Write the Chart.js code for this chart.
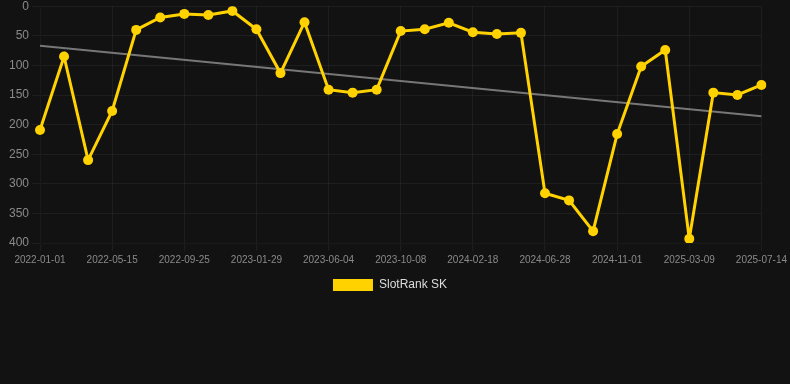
<!DOCTYPE html>
<html>
<head>
<meta charset="utf-8">
<script src="https://cdn.jsdelivr.net/npm/chart.js@4/dist/chart.umd.min.js"></script>
<style>
  html, body { margin: 0; padding: 0; background: #121212; overflow: hidden; }
  #wrap { width: 790px; height: 305px; margin-top: -4px; }
</style>
</head>
<body>
<div id="wrap"><canvas id="myChart"></canvas></div>
<script>
// dates of each rank snapshot
const dates = [
    "2022-01-01", "2022-02-14", "2022-03-30", "2022-05-15", "2022-06-29", "2022-08-11",
    "2022-09-25", "2022-11-06", "2022-12-18", "2023-01-29", "2023-03-12", "2023-04-23",
    "2023-06-04", "2023-07-16", "2023-08-27", "2023-10-08", "2023-11-21", "2024-01-04",
    "2024-02-18", "2024-04-01", "2024-05-15", "2024-06-28", "2024-08-09", "2024-09-20",
    "2024-11-01", "2024-12-13", "2025-01-25", "2025-03-09", "2025-04-20", "2025-06-01",
    "2025-07-14"
];

// SlotRank SK position (lower is better, axis is reversed)
const ranks = [
    209, 85, 260, 177, 40, 19, 13, 15, 8, 39, 113,
    27, 141, 146, 141, 42, 39, 28, 44, 47, 45,
    316, 328, 380, 216, 102, 74, 393, 146, 150, 133
];

const trendStart = 67;
const trendEnd = 186;
const trend = dates.map((d, i) => i === 0 ? trendStart : (i === dates.length - 1 ? trendEnd : null));

const yTicks = [0, 50, 100, 150, 200, 250, 300, 350, 400];

const gridColor = 'rgba(255, 255, 255, 0.05)';
const tickColor = '#8a8a8a';
const fontFamily = 'Liberation Sans, Arial, sans-serif';

const ctx = document.getElementById("myChart");
const myChart = new Chart(ctx, {
    type: 'line',
    data: {
        labels: dates,
        datasets: [{
            label: 'SlotRank SK',
            data: ranks,
            borderColor: '#FFD200',
            backgroundColor: '#FFD200',
            borderWidth: 3,
            pointRadius: 5,
            pointBackgroundColor: '#FFD200',
            pointBorderWidth: 0,
            tension: 0
        }, {
            label: 'trend',
            data: trend,
            borderColor: '#777777',
            borderWidth: 2,
            pointRadius: 0,
            spanGaps: true,
            tension: 0
        }]
    },
    options: {
        responsive: true,
        maintainAspectRatio: false,
        animation: false,
        layout: { padding: { right: 10 } },
        plugins: {
            legend: {
                position: 'bottom',
                labels: {
                    color: '#dddddd',
                    font: { size: 12, family: fontFamily },
                    boxWidth: 40,
                    generateLabels: chart => {
                        const items = Chart.defaults.plugins.legend.labels.generateLabels(chart);
                        return items
                            .filter(item => item.text !== 'trend')
                            .map(item => Object.assign(item, { lineWidth: 0 }));
                    }
                }
            },
            tooltip: { enabled: false }
        },
        scales: {
            x: {
                grid: { color: gridColor },
                ticks: {
                    color: tickColor,
                    maxRotation: 0,
                    font: { size: 10, family: fontFamily }
                }
            },
            y: {
                reverse: true,
                min: 0,
                max: 400,
                afterFit: scale => { scale.width = 40; },
                afterBuildTicks: scale => { scale.ticks = yTicks.map(v => ({ value: v })); },
                grid: { color: gridColor },
                ticks: {
                    color: tickColor,
                    font: { size: 12, family: fontFamily }
                }
            }
        }
    }
});
</script>
</body>
</html>
